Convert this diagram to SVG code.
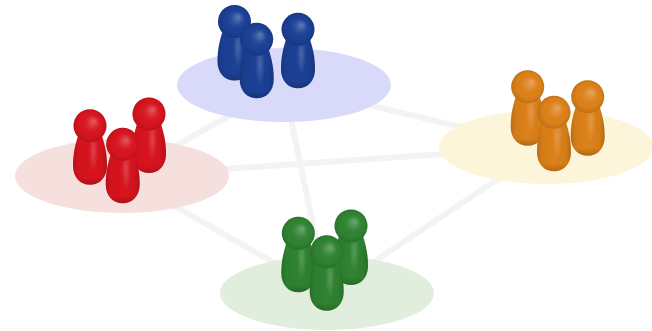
<svg xmlns="http://www.w3.org/2000/svg" xmlns:xlink="http://www.w3.org/1999/xlink" width="652" height="331" viewBox="0 0 652 331">
<style>
.link{stroke:#f3f3f3;stroke-width:6;fill:none}
.blue{color:#1b4095}.red{color:#d8141e}.orange{color:#dd8119}.green{color:#2f8331}
</style>
<defs>
<radialGradient id="headShade" cx="0.5" cy="0.5" r="0.52" fx="0.62" fy="0.36">
<stop offset="0" stop-color="#fff" stop-opacity=".3"/>
<stop offset=".35" stop-color="#fff" stop-opacity=".07"/>
<stop offset=".7" stop-color="#000" stop-opacity="0"/>
<stop offset=".92" stop-color="#000" stop-opacity=".1"/>
<stop offset="1" stop-color="#000" stop-opacity=".2"/>
</radialGradient>
<linearGradient id="bodyEdge" x1="0" x2="1" y1="0" y2="0">
<stop offset="0" stop-color="#000" stop-opacity=".16"/>
<stop offset=".15" stop-color="#000" stop-opacity=".04"/>
<stop offset=".5" stop-color="#000" stop-opacity="0"/>
<stop offset=".85" stop-color="#000" stop-opacity=".04"/>
<stop offset="1" stop-color="#000" stop-opacity=".18"/>
</linearGradient>
<radialGradient id="bodyShine" cx="0.6" cy="0.3" r="0.45" gradientTransform="translate(0.6 0.3) scale(0.32 1) translate(-0.6 -0.3)">
<stop offset="0" stop-color="#fff" stop-opacity=".2"/>
<stop offset="1" stop-color="#fff" stop-opacity="0"/>
</radialGradient>
<linearGradient id="bodyFoot" x1="0" x2="0" y1="0" y2="1">
<stop offset=".85" stop-color="#000" stop-opacity="0"/>
<stop offset="1" stop-color="#000" stop-opacity=".2"/>
</linearGradient>
<path id="bodyShape" d="M-12 10C-15 20-17 28-17 40C-17 52-9.500 59 0 59C9.500 59 17 52 17 40C17 28 15 20 12 10Z"/>
<g id="pawn">
<use href="#bodyShape" xlink:href="#bodyShape" fill="currentColor"/>
<use href="#bodyShape" xlink:href="#bodyShape" fill="url(#bodyEdge)"/>
<use href="#bodyShape" xlink:href="#bodyShape" fill="url(#bodyShine)"/>
<use href="#bodyShape" xlink:href="#bodyShape" fill="url(#bodyFoot)"/>
<circle r="16.500" fill="currentColor"/>
<circle r="16.500" fill="url(#headShade)"/>
</g>
</defs>
<rect width="652" height="331" fill="#fff"/>
<g id="connectors">
<line class="link" x1="284" y1="85" x2="122" y2="176"/>
<line class="link" x1="284" y1="85" x2="546" y2="147"/>
<line class="link" x1="284" y1="85" x2="327" y2="293"/>
<line class="link" x1="122" y1="176" x2="546" y2="147"/>
<line class="link" x1="122" y1="176" x2="327" y2="293"/>
<line class="link" x1="546" y1="147" x2="327" y2="293"/>
</g>
<g id="node-blue" class="blue">
<ellipse cx="284" cy="85" rx="107" ry="37" fill="#d9d9f9"/>
<use xlink:href="#pawn" href="#pawn" x="234.500" y="21.500"/>
<use xlink:href="#pawn" href="#pawn" x="298" y="29.300"/>
<use xlink:href="#pawn" href="#pawn" x="256.700" y="39.300"/>
</g>
<g id="node-red" class="red">
<ellipse cx="122" cy="176" rx="107" ry="37" fill="#f5e0de"/>
<use xlink:href="#pawn" href="#pawn" x="149" y="114"/>
<use xlink:href="#pawn" href="#pawn" x="90" y="125.700"/>
<use xlink:href="#pawn" href="#pawn" x="122.700" y="144.300"/>
</g>
<g id="node-orange" class="orange">
<ellipse cx="546" cy="147" rx="107" ry="37" fill="#fdf5d9"/>
<use xlink:href="#pawn" href="#pawn" x="527.700" y="86.700"/>
<use xlink:href="#pawn" href="#pawn" x="587.700" y="96.700"/>
<use xlink:href="#pawn" href="#pawn" x="554" y="112.300"/>
</g>
<g id="node-green" class="green">
<ellipse cx="327" cy="293" rx="107" ry="37" fill="#e2eedd"/>
<use xlink:href="#pawn" href="#pawn" x="351" y="226"/>
<use xlink:href="#pawn" href="#pawn" x="298.300" y="233.300"/>
<use xlink:href="#pawn" href="#pawn" x="326.700" y="251.700"/>
</g>
</svg>
